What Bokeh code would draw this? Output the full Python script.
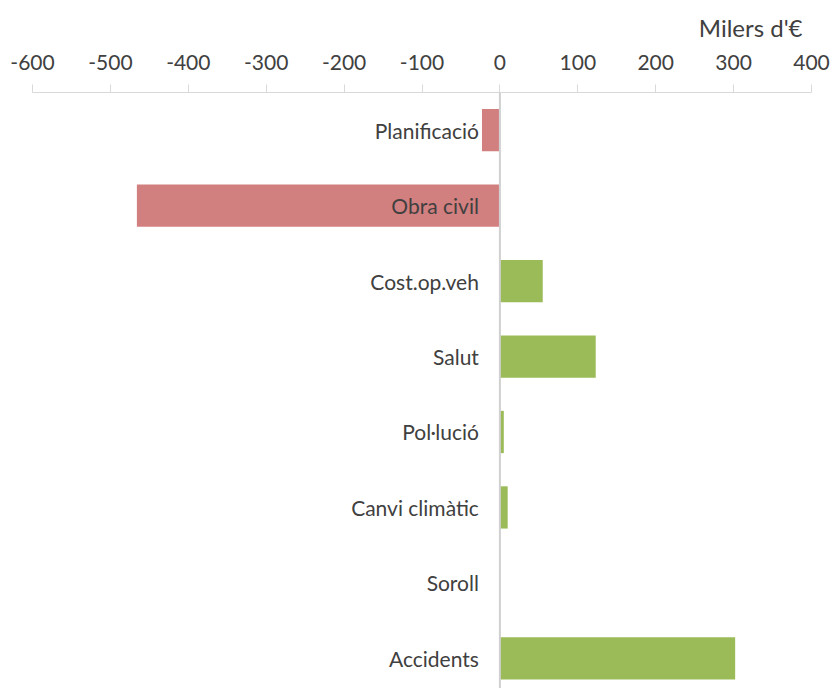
from bokeh.plotting import figure
from bokeh.models import ColumnDataSource, Range1d, FixedTicker, Span, Title
from bokeh.core.properties import value
from bokeh.embed import file_html
from bokeh.resources import INLINE

# Net benefit/cost per item, thousands of euros
categories = ["Planificació", "Obra civil", "Cost.op.veh", "Salut",
              "Pol·lució", "Canvi climàtic", "Soroll", "Accidents"]
values = [-23, -466, 55, 123, 5, 10, 0, 302]
tick_values = [-600, -500, -400, -300, -200, -100, 0, 100, 200, 300, 400]
tick_labels = ["-600", "-500", "-400", "-300", "-200", "-100", "0", "100", "200", "300", "400"]
unit_label = "Milers d'€"

NEG = "#d27f7f"
POS = "#9bbb59"
TEXT = "#404040"
FONT = "Lato"

rows = list(range(len(categories)))
colors = [NEG if v < 0 else POS for v in values]
src = ColumnDataSource(dict(y=rows, v=values, zero=[0] * len(values),
                            cat=categories, color=colors))

p = figure(width=832, height=688, output_backend="svg", toolbar_location=None,
           x_range=Range1d(tick_values[0], tick_values[-1]),
           y_range=Range1d(7.4, -0.5),
           x_axis_location="above", y_axis_location=None,
           min_border_left=32, min_border_right=21, min_border_top=91,
           min_border_bottom=0)
p.outline_line_color = None
p.grid.visible = False
p.background_fill_color = "white"
p.border_fill_color = "white"

p.hbar(y="y", left="zero", right="v", height=0.56, fill_color="color",
       line_color=None, source=src)

p.add_layout(Span(location=0, dimension="height", line_color="#d0d0d0",
                  line_width=2))

p.text(x="zero", y="y", text="cat", source=src, x_offset=-21,
       text_align="right", text_baseline="middle", text_color=TEXT,
       text_font=value(FONT), text_font_size="21px")

ax = p.xaxis[0]
ax.ticker = FixedTicker(ticks=tick_values)
ax.major_label_overrides = {t: s for t, s in zip(tick_values, tick_labels)}
ax.minor_tick_line_color = None
ax.major_tick_in = 0
ax.major_tick_out = 8
ax.axis_line_color = "#d9d9d9"
ax.major_tick_line_color = "#d9d9d9"
ax.major_label_standoff = 15
ax.major_label_text_font = FONT
ax.major_label_text_font_size = "21px"
ax.major_label_text_color = TEXT

unit_title = Title(text=unit_label, align="right", offset=9,
                   text_color=TEXT, text_font=FONT, text_font_size="24px",
                   text_font_style="normal", text_line_height=0.7,
                   standoff=20)
p.add_layout(unit_title, "above")

open("out.html", "w").write(file_html(p, INLINE))
